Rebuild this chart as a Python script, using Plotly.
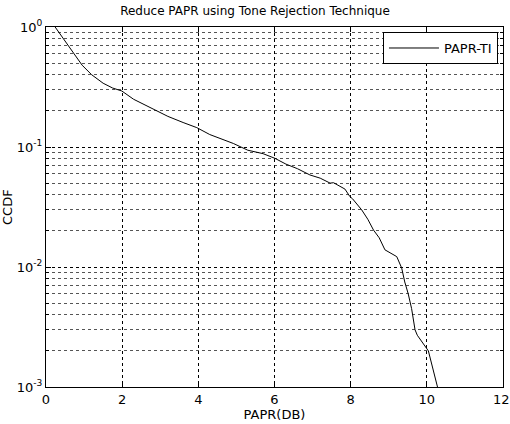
import plotly.graph_objects as go

papr_db = [0.24, 0.45, 0.72, 0.95, 1.2, 1.5, 1.75, 1.99, 2.3, 2.6, 2.86, 3.2, 3.6, 3.96, 4.3, 4.6, 4.92,
           5.3, 5.7, 6.01, 6.3, 6.6, 6.93, 7.2, 7.46, 7.55, 7.85, 7.98, 8.05, 8.29, 8.45, 8.6, 8.75, 8.9,
           9.21, 9.34, 9.42, 9.51, 9.6, 9.69, 9.75, 10.04, 10.28]
ccdf = [1.0, 0.80, 0.60, 0.48, 0.40, 0.34, 0.31, 0.293, 0.25, 0.225, 0.204, 0.18, 0.16, 0.145, 0.127,
        0.117, 0.107, 0.094, 0.088, 0.0805, 0.072, 0.066, 0.0585, 0.055, 0.050, 0.0504, 0.0446, 0.0386,
        0.037, 0.0299, 0.025, 0.0203, 0.0175, 0.0139, 0.0122, 0.0098, 0.0075, 0.0060, 0.0045, 0.0030,
        0.0027, 0.0020, 0.0010]

x_ticks = [0, 2, 4, 6, 8, 10, 12]
x_ticktext = ["0", "2", "4", "6", "8", "10", "12"]
y_ticks = [1, 0.1, 0.01, 0.001]
y_ticktext = ["10<sup>0</sup>", "10<sup>-1</sup>", "10<sup>-2</sup>", "10<sup>-3</sup>"]
y_minor = [m * 10 ** e for e in (-3, -2, -1) for m in range(2, 10)]

font = dict(family="DejaVu Sans", size=13, color="black")

fig = go.Figure()
fig.add_trace(go.Scatter(x=papr_db, y=ccdf, mode="lines", name="PAPR-TI",
                         line=dict(color="black", width=1)))

fig.update_layout(
    width=510, height=424,
    margin=dict(l=46, r=7, t=27, b=37),
    paper_bgcolor="white", plot_bgcolor="white",
    font=font,
    title=dict(text="Reduce PAPR using Tone Rejection Technique", x=0.5, xanchor="center",
               y=1 - 11 / 424, yanchor="middle", font=dict(family="DejaVu Sans", size=12)),
    showlegend=True,
    legend=dict(x=0.989, xanchor="right", y=0.986, yanchor="top", bordercolor="black",
                borderwidth=1, bgcolor="white", font=font, itemwidth=50),
)
fig.update_xaxes(range=[0, 12], tickvals=x_ticks[:-1], ticktext=x_ticktext[:-1], showgrid=True,
                 gridcolor="black", griddash="dot",
                 gridwidth=1, showline=True, linecolor="black", linewidth=1, mirror="ticks",
                 ticks="inside", ticklen=5, tickcolor="black", zeroline=False,
                 title=dict(text="PAPR(DB)", standoff=2, font=font))
fig.update_yaxes(type="log", range=[-3, 0], tickvals=y_ticks, ticktext=y_ticktext, showgrid=True,
                 gridcolor="black", griddash="dot", gridwidth=1, showline=True, linecolor="black",
                 linewidth=1, mirror="ticks", ticks="inside", ticklen=5, tickcolor="black",
                 zeroline=False,
                 minor=dict(tickvals=y_minor, showgrid=True, gridcolor="#555555", griddash="dot",
                            gridwidth=1, ticks="inside", ticklen=3, tickcolor="black"))
# last x tick label sits at the figure's right edge
fig.add_annotation(text=x_ticktext[-1], x=x_ticks[-1], xref="x", yref="paper", y=0, yshift=-3,
                   xshift=-2, xanchor="center", yanchor="top", showarrow=False, font=font)
fig.add_annotation(text="CCDF", textangle=-90, xref="paper", yref="paper", x=(7 - 46) / 457, y=0.5,
                   xanchor="center", yanchor="middle", showarrow=False, font=font)

fig.write_html("out.html")
